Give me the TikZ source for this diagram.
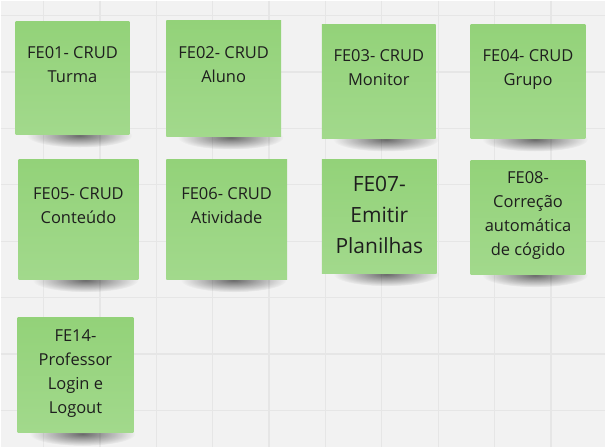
\documentclass[tikz,border=0pt]{standalone}
\usepackage{fontspec}
\setmainfont{Open Sans}
\usetikzlibrary{fadings}
\definecolor{boardgray}{HTML}{F2F2F2}
\definecolor{gridgray}{HTML}{E6E6E6}
\definecolor{notegreen}{HTML}{93D279}
\definecolor{notelight}{HTML}{A2D98C}
\definecolor{notetext}{HTML}{1E1E1E}
\tikzfading[name=shadowfade, inner color=transparent!20, outer color=transparent!100]
\pgfdeclarelayer{back}
\pgfsetlayers{back,main}
\tikzstyle{note}=[inner sep=0pt,top color=notegreen,bottom color=notelight]

\begin{document}
\begin{tikzpicture}[x=1pt,y=-1pt]

\tikzstyle{notelabel}=[align=center,inner sep=0pt,text=notetext,font=\fontsize{16.5}{24}\selectfont]
\tikzstyle{biglabel}=[notelabel,font=\fontsize{21}{31}\selectfont]

\begin{pgfonlayer}{back}
\fill[boardgray] (0,0) rectangle (606,447);
\foreach \gx in {43,99.5,...,600} \draw[gridgray,line width=1.2pt] (\gx,0) -- (\gx,447);
\foreach \gy in {15,71.5,...,440} \draw[gridgray,line width=1.2pt] (0,\gy) -- (606,\gy);
\end{pgfonlayer}
\useasboundingbox (0,0) rectangle (606,447);

% first row
\node (fe01) [note, minimum width=114pt, minimum height=113pt] at (72,77.5) {};
\node (fe02) [note, minimum width=115pt, minimum height=116pt] at (223.5,78) {};
\node (fe03) [note, minimum width=114pt, minimum height=114pt] at (379,81) {};
\node (fe04) [note, minimum width=115pt, minimum height=114pt] at (528.5,81) {};

% second row
\node (fe05) [note, minimum width=120pt, minimum height=120pt] at (78,219) {};
\node (fe06) [note, minimum width=121pt, minimum height=120pt] at (226.5,219) {};
\node (fe07) [note, minimum width=115pt, minimum height=114pt] at (379.5,216) {};
\node (fe08) [note, minimum width=115pt, minimum height=114pt] at (528.5,217) {};

% third row
\node (fe14) [note, minimum width=116pt, minimum height=115pt] at (75,375.5) {};

\node (fe01t) [notelabel] at ([yshift=13pt]fe01.center)   {FE01- CRUD\\Turma};
\node (fe02t) [notelabel] at ([yshift=13.5pt]fe02.center) {FE02- CRUD\\Aluno};
\node (fe03t) [notelabel] at ([yshift=13.5pt]fe03.center) {FE03- CRUD\\Monitor};
\node (fe04t) [notelabel] at ([yshift=12pt]fe04.center)   {FE04- CRUD\\Grupo};
\node (fe05t) [notelabel] at ([yshift=14pt]fe05.center)   {FE05- CRUD\\Conteúdo};
\node (fe06t) [notelabel] at ([yshift=14pt]fe06.center)   {FE06- CRUD\\Atividade};
\node (fe07t) [biglabel]  at ([yshift=1.5pt]fe07.center)  {FE07-\\Emitir\\Planilhas};
\node (fe08t) [notelabel] at ([yshift=2pt]fe08.center)    {FE08-\\Correção\\automática\\de cógido};
\node (fe14t) [notelabel] at ([yshift=1.5pt]fe14.center)  {FE14-\\Professor\\Login e\\Logout};

% shadows under the notes
\begin{pgfonlayer}{back}
\foreach \n in {fe01,fe02,fe03,fe04,fe05,fe06,fe07,fe08,fe14}
  \fill[black,opacity=0.7,path fading=shadowfade] ([xshift=7pt,yshift=-1pt]\n.south) ellipse (53pt and 12pt);
\end{pgfonlayer}

\end{tikzpicture}
\end{document}
